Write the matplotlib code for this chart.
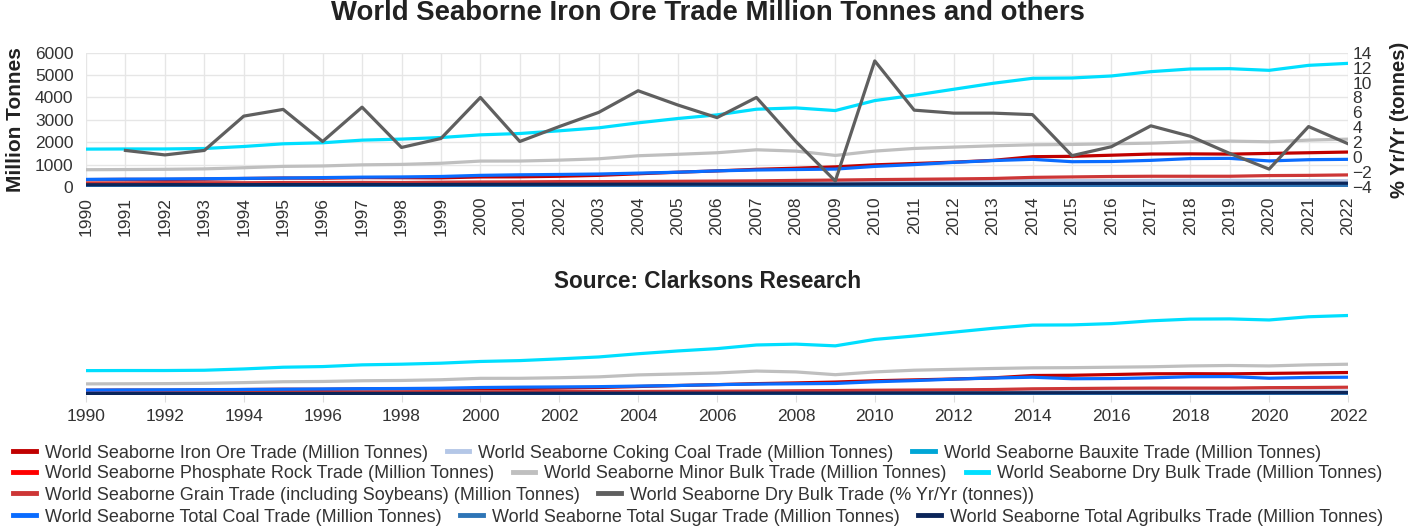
import matplotlib
matplotlib.use("Agg")
import matplotlib.pyplot as plt
from matplotlib.lines import Line2D

plt.rcParams['font.family'] = ['Liberation Sans', 'DejaVu Sans']

years = list(range(1990, 2023))

iron_ore = [330, 340, 335, 350, 380, 400, 395, 420, 415, 410, 450, 455, 480, 520, 590, 660, 720, 790, 840, 900,
            990, 1050, 1110, 1190, 1354, 1370, 1420, 1473, 1480, 1470, 1500, 1530, 1562]
coking_coal = [140, 145, 145, 150, 155, 160, 160, 165, 165, 160, 175, 180, 180, 185, 195, 200, 205, 215, 220, 210,
               250, 255, 260, 275, 290, 285, 290, 295, 300, 300, 280, 290, 281]
bauxite = [45, 46, 45, 47, 48, 50, 52, 53, 52, 53, 55, 55, 57, 60, 62, 65, 68, 72, 75, 65,
           75, 80, 85, 95, 100, 105, 110, 115, 125, 130, 135, 140, 145]
phosphate = [45, 42, 38, 30, 30, 30, 31, 32, 32, 31, 30, 30, 30, 30, 31, 32, 32, 32, 30, 25,
             28, 30, 30, 29, 29, 30, 30, 31, 33, 34, 33, 33, 31]
minor_bulk = [772, 780, 790, 810, 860, 921, 940, 990, 1010, 1060, 1158, 1160, 1200, 1260, 1396, 1460, 1530, 1663,
              1604, 1411, 1604, 1722, 1782, 1841, 1886, 1900, 1930, 1960, 2020, 2050, 2020, 2094, 2138]
dry_bulk = [1693, 1700, 1700, 1720, 1810, 1930, 1975, 2094, 2140, 2210, 2330, 2390, 2510, 2643, 2866, 3059, 3222,
            3475, 3534, 3415, 3861, 4099, 4366, 4633, 4856, 4870, 4960, 5153, 5272, 5287, 5212, 5435, 5524]
grain = [180, 185, 195, 190, 190, 200, 200, 205, 200, 215, 225, 230, 240, 240, 245, 255, 265, 275, 295, 310,
         330, 345, 360, 380, 430, 450, 470, 480, 480, 480, 510, 520, 540]
pct_years = list(range(1991, 2023))
dry_bulk_pct = [0.9, 0.3, 0.9, 5.5, 6.4, 2.1, 6.7, 1.3, 2.5, 8.0, 2.1, 4.1, 6.0, 8.9, 7.0, 5.3, 8.0, 2.1, -3.2,
                12.9, 6.3, 5.9, 5.9, 5.7, 0.2, 1.4, 4.2, 2.8, 0.5, -1.6, 4.1, 1.8]
total_coal = [340, 350, 360, 370, 385, 400, 420, 440, 450, 470, 520, 545, 560, 580, 620, 660, 720, 760, 780, 800,
              920, 1000, 1100, 1180, 1236, 1130, 1140, 1190, 1270, 1280, 1165, 1220, 1236]
sugar = [28, 29, 30, 30, 31, 33, 35, 36, 37, 38, 38, 40, 42, 45, 46, 47, 48, 49, 50, 52,
         54, 56, 57, 58, 59, 60, 60, 61, 60, 58, 60, 61, 60]
agribulks = [100, 102, 105, 104, 105, 108, 110, 112, 112, 115, 118, 120, 122, 124, 126, 128, 130, 132, 135, 132,
             140, 145, 148, 150, 155, 158, 160, 162, 163, 164, 166, 168, 170]

labels = [
    "World Seaborne Iron Ore Trade (Million Tonnes)",
    "World Seaborne Coking Coal Trade (Million Tonnes)",
    "World Seaborne Bauxite Trade (Million Tonnes)",
    "World Seaborne Phosphate Rock Trade (Million Tonnes)",
    "World Seaborne Minor Bulk Trade (Million Tonnes)",
    "World Seaborne Dry Bulk Trade (Million Tonnes)",
    "World Seaborne Grain Trade (including Soybeans) (Million Tonnes)",
    "World Seaborne Dry Bulk Trade (% Yr/Yr (tonnes))",
    "World Seaborne Total Coal Trade (Million Tonnes)",
    "World Seaborne Total Sugar Trade (Million Tonnes)",
    "World Seaborne Total Agribulks Trade (Million Tonnes)",
]
colors = ['#c00000', '#b4c7e7', '#00a6d6', '#ff0000', '#bfbfbf', '#00dfff',
          '#cd3636', '#5f5f5f', '#0a6cff', '#2e75b6', '#0b2559']
series = [iron_ore, coking_coal, bauxite, phosphate, minor_bulk, dry_bulk,
          grain, None, total_coal, sugar, agribulks]

W, H = 1415, 528
fig = plt.figure(figsize=(W / 100, H / 100), dpi=100)
txt = '#333333'
grid_c = '#e6e6e6'
lw = 2.3


def fx(px):
    return px / W


def fy(py):
    return 1 - py / H


# ---------- main chart ----------
ax = fig.add_axes([fx(86), fy(187), fx(1348 - 86), (187 - 52.7) / H])
for s, c in zip(series, colors):
    if s is not None:
        ax.plot(years, s, color=c, lw=lw, solid_capstyle='round', zorder=3)
ax.set_xlim(1990, 2022)
ax.set_ylim(0, 6000)
ax.set_yticks(range(0, 6001, 1000))
ax.set_xticks(years)
ax.set_xticklabels([str(y) for y in years], rotation=90)
ax.grid(True, color=grid_c, lw=1)
ax.set_axisbelow(True)
for sp in ax.spines.values():
    sp.set_visible(False)
ax.tick_params(axis='both', length=0, labelsize=12.5, labelcolor=txt)
ax.tick_params(axis='y', pad=9)
ax.tick_params(axis='x', pad=7)
ax.set_ylabel("Million Tonnes", fontsize=15, fontweight='bold', color='#222222', labelpad=7)

ax2 = ax.twinx()
ax2.plot(pct_years, dry_bulk_pct, color=colors[7], lw=lw, zorder=4)
ax2.set_ylim(-4, 14)
ax2.set_yticks(range(-4, 15, 2))
for sp in ax2.spines.values():
    sp.set_visible(False)
ax2.tick_params(axis='y', length=0, labelsize=12.5, labelcolor=txt, pad=3)
ax2.set_ylabel("% Yr/Yr (tonnes)", fontsize=14.5, fontweight='bold', color='#222222', labelpad=13)

fig.text(0.5, fy(13), "World Seaborne Iron Ore Trade Million Tonnes and others",
         ha='center', va='center', fontsize=19.8, fontweight='bold', color='#222222')

# ---------- navigator ----------
fig.text(0.5, fy(281), "Source: Clarksons Research", ha='center', va='center',
         fontsize=16.3, fontweight='bold', color='#222222')
axn = fig.add_axes([fx(86), fy(395), fx(1348 - 86), (395 - 300) / H])
for s, c in zip(series, colors):
    if s is not None:
        axn.plot(years, s, color=c, lw=lw)
axn.set_xlim(1990, 2022)
axn.set_ylim(0, 6600)
axn.set_yticks([])
axn.set_xticks(range(1990, 2023, 2))
for sp in axn.spines.values():
    sp.set_visible(False)
axn.tick_params(axis='x', length=5, color='#dddddd', labelsize=12.5, labelcolor=txt, pad=5)

# ---------- legend ----------
rows = [[0, 1, 2], [3, 4, 5], [6, 7], [8, 9, 10]]
row_y = [453, 474, 495, 517]
for r, yy in zip(rows, row_y):
    handles = [Line2D([], [], color=colors[i], lw=3.5) for i in r]
    fig.legend(handles, [labels[i] for i in r], loc='center left',
               bbox_to_anchor=(fx(13), fy(yy)), ncol=len(r), frameon=False,
               fontsize=13.0, handlelength=1.25, handletextpad=0.5, columnspacing=1.05,
               borderpad=0, borderaxespad=0, labelcolor=txt)

fig.savefig("out.png", dpi=100)
